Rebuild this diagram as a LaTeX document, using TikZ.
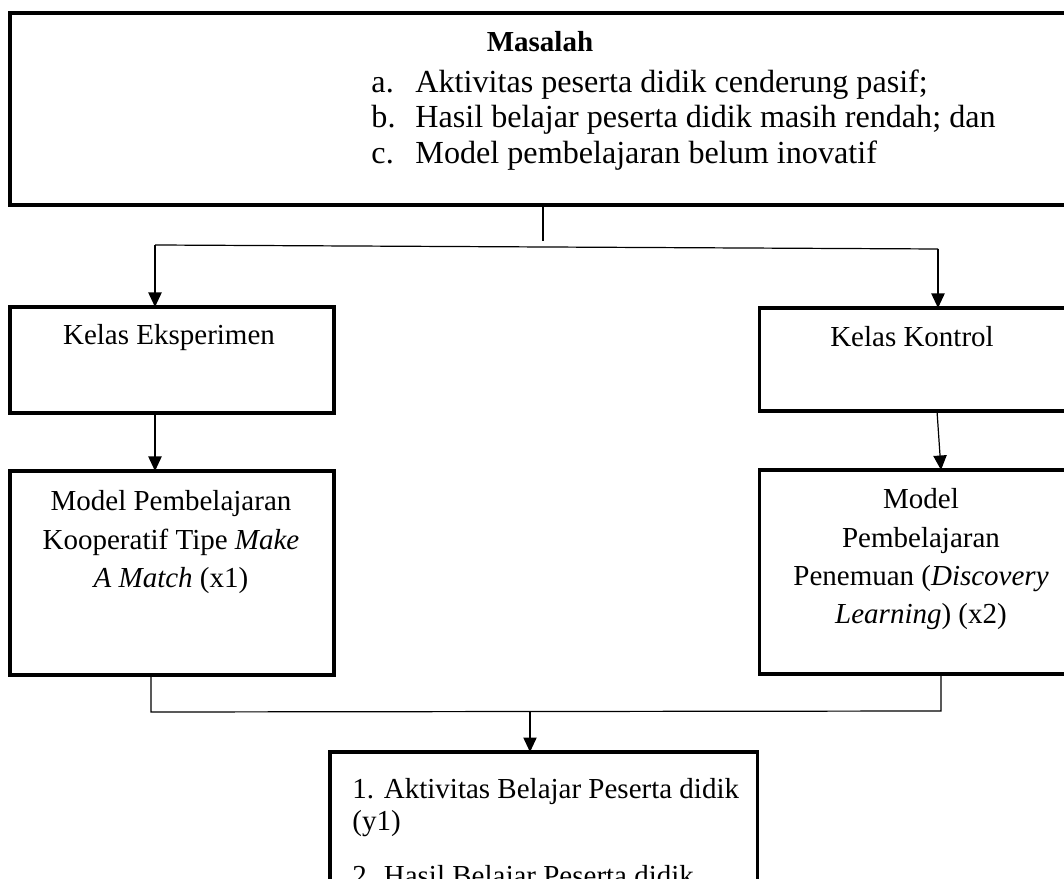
\documentclass[tikz,border=0pt]{standalone}
\usepackage{fontspec}
\setmainfont{Liberation Serif}
\usetikzlibrary{arrows.meta,positioning}
\newcommand\pxu{0.4138pt}
\tikzset{kotak/.style = {draw, line width=1.25pt, inner sep=0pt, outer sep=0pt, anchor=north west},
  garis/.style = {line width=0.5pt},
  panah/.style = {garis, -{Triangle[length=6pt, width=5.5pt]}},
  teks/.style = {inner sep=0pt, font=\fontsize{12pt}{15.9pt}\selectfont}}

\begin{document}
\begin{tikzpicture}[x=\pxu, y=-\pxu]
      \useasboundingbox (0,0) rectangle (1064,879);
      \clip (0,0) rectangle (1064,879);
      % kotak
      \node[kotak, minimum width=1090*\pxu, minimum height=192*\pxu] (masalah) at (10,13) {};
      \node[kotak, minimum width=324*\pxu, minimum height=106*\pxu] (eksp) at (10,307) {};
      \node[kotak, minimum width=307*\pxu, minimum height=103*\pxu] (kontrol) at (759,308) {};
      \node[kotak, minimum width=324*\pxu, minimum height=204*\pxu] (modelA) at (10,471) {};
      \node[kotak, minimum width=324*\pxu, minimum height=204*\pxu] (modelB) at (759,470) {};
      \node[kotak, minimum width=427*\pxu, minimum height=250*\pxu] (hasil) at (330,752) {};
      % teks
      \node[teks, anchor=base, font=\fontsize{12pt}{14pt}\selectfont\bfseries] (tMasalah) at (540,52) {Masalah};
      \node[teks, anchor=north west, align=left, font=\fontsize{13.3pt}{14.7pt}\selectfont] (tDaftar) at (371,69)
        {\makebox[18.2pt][l]{a.}Aktivitas peserta didik cenderung pasif;\\
         \makebox[18.2pt][l]{b.}Hasil belajar peserta didik masih rendah; dan\\
         \makebox[18.2pt][l]{c.}Model pembelajaran belum inovatif};
      \node[teks, anchor=base] (tEksp) at (169,345) {Kelas Eksperimen};
      \node[teks, anchor=base] (tKontrol) at (912,347) {Kelas Kontrol};
      \node[teks, anchor=north, align=center] (tModelA) at (171,490)
        {Model Pembelajaran\\Kooperatif Tipe \textit{Make}\\\textit{A Match} (x1)};
      \node[teks, anchor=north, align=center] (tModelB) at (921,488)
        {Model\\Pembelajaran\\Penemuan (\textit{Discovery}\\\textit{Learning}) (x2)};
      \node[teks, anchor=north west, align=left, font=\fontsize{12pt}{13.4pt}\selectfont] (tHasil) at (352,778)
        {1. Aktivitas Belajar Peserta didik\\(y1)\\[9pt]2. Hasil Belajar Peserta didik};
      % garis penghubung
      \coordinate (cabang) at (543,245);
      \coordinate (kiri1) at (155,245);
      \coordinate (kanan1) at (938,249);
      \coordinate (kanan2) at (937,0);
      \coordinate (kanan3) at (941,0);
      \coordinate (kiri4) at (151,712);
      \coordinate (kanan4) at (941,711);
      \coordinate (gabung) at (530,712);
      \draw[garis] (masalah.south -| cabang) -- ([yshift=1.6pt]cabang);
      \draw[garis] (kiri1) -- (kanan1);
      \draw[panah] (kiri1) -- (kiri1 |- eksp.north);
      \draw[panah] (kanan1) -- (kanan1 |- kontrol.north);
      \draw[panah] (eksp.south -| kiri1) -- (modelA.north -| kiri1);
      \draw[panah] (kontrol.south -| kanan2) -- (modelB.north -| kanan3);
      \draw[garis] (modelA.south -| kiri4) -- (kiri4) -- (kanan4) -- (modelB.south -| kanan4);
      \draw[panah] (gabung) -- (gabung |- hasil.north);
\end{tikzpicture}
\end{document}
